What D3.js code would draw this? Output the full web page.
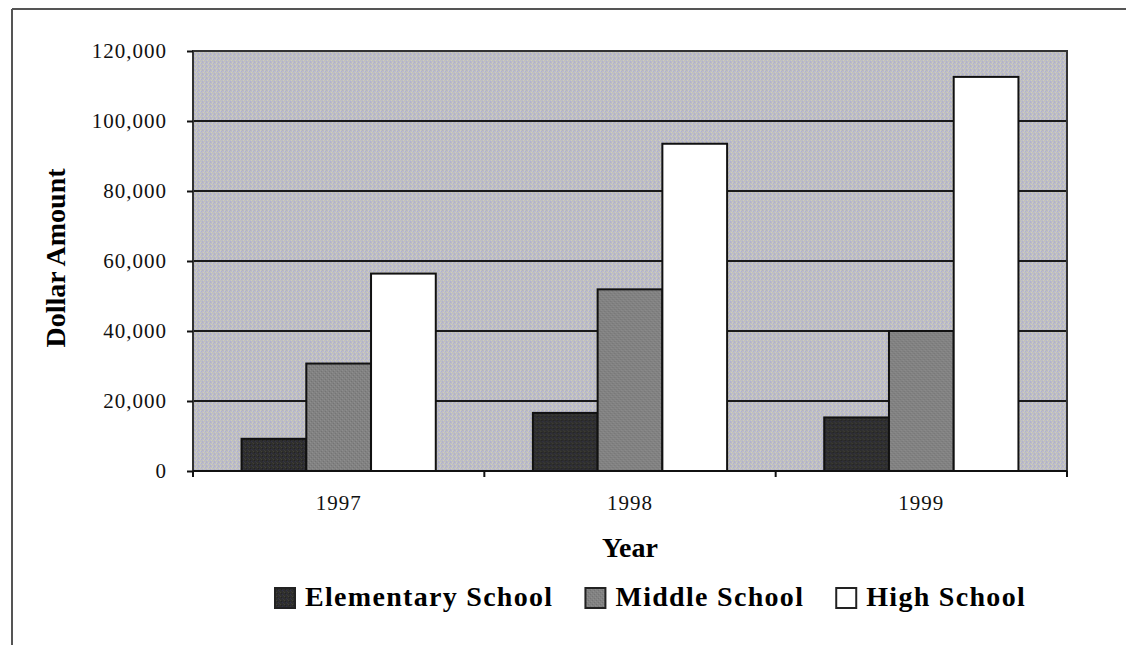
<!DOCTYPE html>
<html>
<head>
<meta charset="utf-8">
<script src="https://cdn.jsdelivr.net/npm/d3@7"></script>
<style>
  body { margin: 0; background: #fff; }
  svg { display: block; }
  .tick text { font-family: "Liberation Serif", serif; font-size: 21px; fill: #111; }
</style>
</head>
<body>
<div class="chart"></div>
<script>
// Chart data
var years = ["1997", "1998", "1999"];
var seriesNames = ["Elementary School", "Middle School", "High School"];
var elementary = [9200, 16600, 15300];
var middle = [30700, 51900, 40000];
var high = [56400, 93500, 112600];
var yTicks = [0, 20000, 40000, 60000, 80000, 100000, 120000];

var svgWidth = 1126;
var svgHeight = 645;

var margin = { top: 51, right: 59, bottom: 174, left: 193 };
var width = svgWidth - margin.left - margin.right;
var height = svgHeight - margin.top - margin.bottom;

var svg = d3.select(".chart")
  .append("svg")
  .attr("width", svgWidth)
  .attr("height", svgHeight);

// dithered fills like the old bitmap
var defs = svg.append("defs");

function dither(id, base, dots) {
  var p = defs.append("pattern")
    .attr("id", id)
    .attr("width", 4)
    .attr("height", 4)
    .attr("patternUnits", "userSpaceOnUse");
  p.append("rect").attr("width", 4).attr("height", 4).attr("fill", base);
  dots.forEach(d => {
    p.append("rect").attr("x", d[0]).attr("y", d[1]).attr("width", 1).attr("height", 1).attr("fill", d[2]);
  });
}

dither("bgFill", "#bfbfc1", [[0, 0, "#aeaed8"], [2, 1, "#cdcdbc"], [1, 2, "#aeaed8"], [3, 3, "#cdcdbc"], [3, 0, "#c6c6cc"], [1, 3, "#b6b6ba"], [2, 3, "#b4b4d2"]]);
dither("elemFill", "#2e2e2e", [[0, 0, "#424232"], [2, 2, "#30304a"], [1, 1, "#222222"], [3, 3, "#3a3a3a"]]);
dither("midFill", "#828282", [[0, 0, "#747474"], [2, 2, "#747474"], [1, 3, "#8e8e8e"], [3, 1, "#8e8e8e"]]);

var fills = ["url(#elemFill)", "url(#midFill)", "#ffffff"];

// outer frame (cropped, only top and left visible)
svg.append("line")
  .attr("x1", 12).attr("x2", svgWidth).attr("y1", 9).attr("y2", 9)
  .attr("stroke", "#555").attr("stroke-width", 2);
svg.append("line")
  .attr("x1", 12).attr("x2", 12).attr("y1", 9).attr("y2", svgHeight)
  .attr("stroke", "#555").attr("stroke-width", 2);

var chartGroup = svg.append("g")
  .attr("transform", `translate(${margin.left}, ${margin.top})`);

// Scales
var x0 = d3.scaleBand().domain(years).range([0, width]).padding(0);
var x1 = d3.scaleBand().domain(seriesNames).range([0, x0.bandwidth()])
  .paddingInner(0).paddingOuter(0.75);
var yLinearScale = d3.scaleLinear().domain([0, 120000]).range([height, 0]);

// Plot background
chartGroup.append("rect")
  .attr("width", width)
  .attr("height", height)
  .attr("fill", "url(#bgFill)");

// Gridlines
chartGroup.selectAll(".grid")
  .data(yTicks.slice(1))
  .enter()
  .append("line")
  .attr("class", "grid")
  .attr("x1", 0).attr("x2", width)
  .attr("y1", d => yLinearScale(d)).attr("y2", d => yLinearScale(d))
  .attr("stroke", "#1a1a1a").attr("stroke-width", 2);

// Bars
var rows = years.map((yr, i) => ({ year: yr, values: [elementary[i], middle[i], high[i]] }));

var groups = chartGroup.selectAll(".year")
  .data(rows)
  .enter()
  .append("g")
  .attr("transform", d => `translate(${x0(d.year)}, 0)`);

groups.selectAll("rect")
  .data(d => d.values.map((v, j) => ({ name: seriesNames[j], value: v, fill: fills[j] })))
  .enter()
  .append("rect")
  .attr("x", d => x1(d.name))
  .attr("y", d => yLinearScale(d.value))
  .attr("width", x1.bandwidth())
  .attr("height", d => height - yLinearScale(d.value))
  .attr("fill", d => d.fill)
  .attr("stroke", "#111")
  .attr("stroke-width", 2);

// Plot border
chartGroup.append("rect")
  .attr("width", width)
  .attr("height", height)
  .attr("fill", "none")
  .attr("stroke", "#333")
  .attr("stroke-width", 2);

// Axes
var yaxis = d3.axisLeft(yLinearScale)
  .tickValues(yTicks)
  .tickFormat(d3.format(","))
  .tickSize(6)
  .tickPadding(20);
var yg = chartGroup.append("g").call(yaxis);
yg.select(".domain").remove();
yg.selectAll(".tick line").attr("stroke", "#111").attr("stroke-width", 2);
yg.selectAll(".tick text").attr("letter-spacing", 1);

var xaxis = d3.axisBottom(x0).tickSize(0).tickPadding(24);
var xg = chartGroup.append("g").attr("transform", `translate(0, ${height})`).call(xaxis);
xg.select(".domain").remove();
xg.selectAll(".tick text").attr("letter-spacing", 1);

// category boundary ticks
chartGroup.append("line")
  .attr("x1", 0).attr("x2", width).attr("y1", height).attr("y2", height)
  .attr("stroke", "#111").attr("stroke-width", 2);
chartGroup.selectAll(".xtick")
  .data(d3.range(years.length + 1))
  .enter()
  .append("line")
  .attr("class", "xtick")
  .attr("x1", i => i * x0.step()).attr("x2", i => i * x0.step())
  .attr("y1", height).attr("y2", height + 6)
  .attr("stroke", "#111").attr("stroke-width", 2);

// Axis labels
chartGroup.append("text")
  .attr("transform", "rotate(-90)")
  .attr("x", 0 - (yLinearScale(60000) - 3))
  .attr("y", 65 - margin.left)
  .attr("text-anchor", "middle")
  .style("font-family", "Liberation Serif, serif")
  .style("font-weight", "bold")
  .style("font-size", "28px")
  .text("Dollar Amount");

chartGroup.append("text")
  .attr("x", width / 2)
  .attr("y", height + 86)
  .attr("text-anchor", "middle")
  .style("font-family", "Liberation Serif, serif")
  .style("font-weight", "bold")
  .style("font-size", "28px")
  .text("Year");

// Legend
var legend = svg.append("g");
var lx = 275;
seriesNames.forEach((name, j) => {
  legend.append("rect")
    .attr("x", lx).attr("y", 588)
    .attr("width", 20).attr("height", 20)
    .attr("fill", fills[j])
    .attr("stroke", "#222").attr("stroke-width", 2);
  var t = legend.append("text")
    .attr("x", lx + 30).attr("y", 606)
    .attr("letter-spacing", 1.3)
    .style("font-family", "Liberation Serif, serif")
    .style("font-weight", "bold")
    .style("font-size", "28px")
    .text(name);
  lx = lx + 30 + t.node().getComputedTextLength() + 32;
});
</script>
</body>
</html>
